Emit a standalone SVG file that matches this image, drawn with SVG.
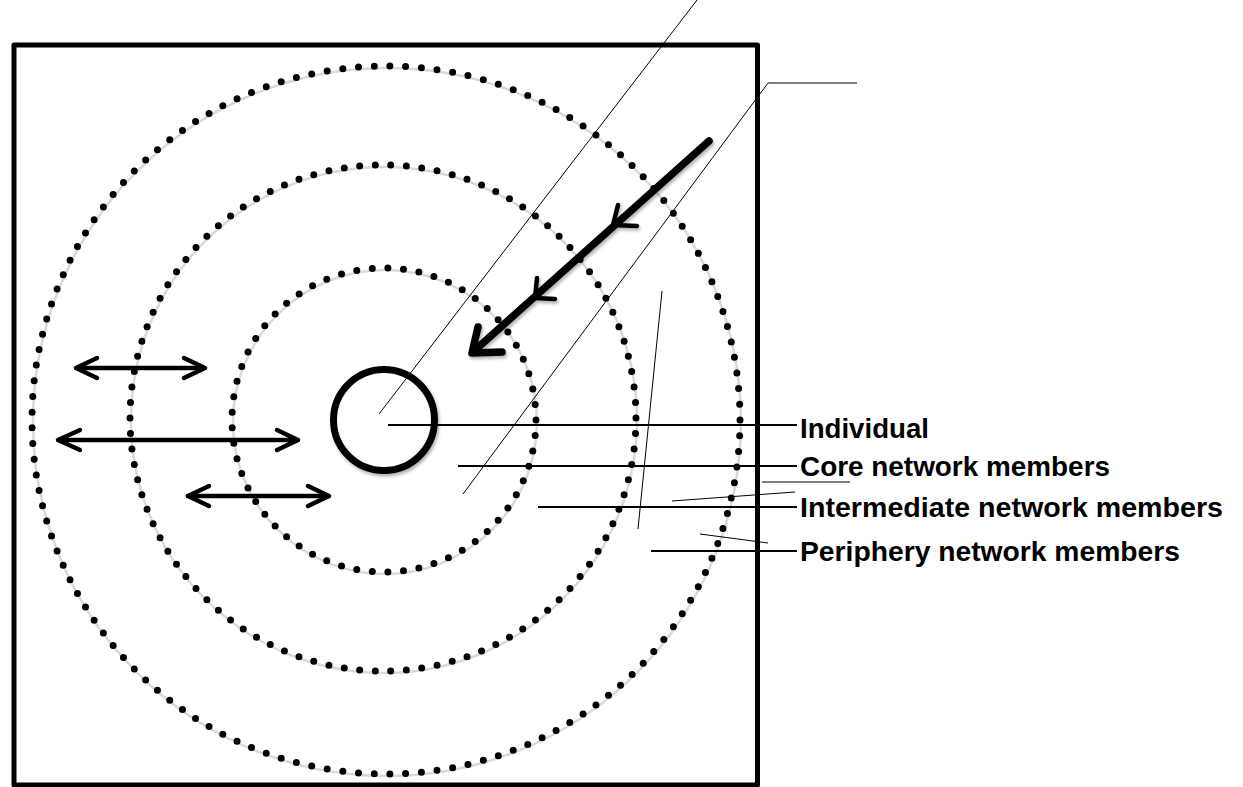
<svg xmlns="http://www.w3.org/2000/svg" width="1243" height="787" viewBox="0 0 1243 787">
  <style>
    .ring { fill: none; stroke: #000; stroke-width: 7; stroke-linecap: round; }
    .ring-shade { fill: none; stroke: #d9d9d9; stroke-width: 2.5; }
    .thin { fill: none; stroke: #000; stroke-width: 1; }
    .lead { fill: none; stroke: #000; stroke-width: 2; }
    .dbl { fill: none; stroke: #000; stroke-width: 4.5; stroke-linecap: round; stroke-linejoin: round; }
    .label { font-family: "Liberation Sans", Arial, sans-serif; font-weight: bold; font-size: 28px; fill: #000; }
  </style>
  <defs>
    <filter id="shade" x="-20%" y="-20%" width="140%" height="140%">
      <feDropShadow dx="1.5" dy="2.5" stdDeviation="1.5" flood-color="#000" flood-opacity="0.3"/>
    </filter>
  </defs>

  <rect width="1243" height="787" fill="#fff"/>

  <!-- frame -->
  <g id="frame">
    <rect x="14" y="45" width="743.5" height="740" fill="none" stroke="#000" stroke-width="5" stroke-linejoin="round"/>
  </g>

  <!-- dotted rings: periphery, intermediate, core -->
  <g id="ring-periphery">
    <circle class="ring-shade" cx="387" cy="422" r="354"/>
    <circle class="ring" cx="386" cy="420" r="354" pathLength="141" stroke-dasharray="0 1"/>
  </g>
  <g id="ring-intermediate">
    <circle class="ring-shade" cx="384" cy="420" r="253"/>
    <circle class="ring" cx="383" cy="418" r="253" pathLength="102" stroke-dasharray="0 1"/>
  </g>
  <g id="ring-core">
    <circle class="ring-shade" cx="385" cy="422" r="152"/>
    <circle class="ring" cx="384" cy="420" r="152" pathLength="61" stroke-dasharray="0 1"/>
  </g>

  <!-- individual -->
  <g id="individual">
    <circle cx="384" cy="420" r="50.5" fill="#fff" stroke="#000" stroke-width="7" filter="url(#shade)"/>
  </g>

  <!-- connectors -->
  <g id="connectors">
    <!-- inward arrow -->
    <g filter="url(#shade)" stroke="#000" fill="none" stroke-linecap="round" stroke-linejoin="round">
      <line x1="709" y1="141" x2="474" y2="351" stroke-width="7.5"/>
      <polyline points="478,327 472,353 502,352" stroke-width="7.5"/>
      <polyline points="618,205 613,225 637,226" stroke-width="4.5"/>
      <polyline points="537,278 535,298 555,299" stroke-width="4.5"/>
    </g>

    <!-- two-way arrows -->
    <g class="dbl">
      <line x1="77" y1="368" x2="204" y2="368"/>
      <polyline points="97,358 76,368 97,378"/>
      <polyline points="184,358 205,368 184,378"/>

      <line x1="59" y1="440" x2="297" y2="440"/>
      <polyline points="80,430 58,440 80,450"/>
      <polyline points="277,430 298,440 277,450"/>

      <line x1="188" y1="496" x2="328" y2="496"/>
      <polyline points="209,486 188,496 209,506"/>
      <polyline points="308,486 329,496 308,506"/>
    </g>

    <!-- thin guide lines -->
    <line class="thin" x1="697" y1="0" x2="379" y2="414"/>
    <polyline class="thin" points="463,494 768,83 857,83"/>
    <line class="thin" x1="662" y1="291" x2="638" y2="529"/>
    <line class="thin" x1="762" y1="482" x2="850" y2="482"/>
    <line class="thin" x1="672" y1="501" x2="795" y2="492"/>
    <line class="thin" x1="700" y1="534" x2="768" y2="543"/>

    <!-- label leaders -->
    <line class="lead" x1="388" y1="425" x2="797" y2="425"/>
    <line class="lead" x1="458" y1="466" x2="797" y2="466"/>
    <line class="lead" x1="538" y1="507" x2="797" y2="507"/>
    <line class="lead" x1="651" y1="551" x2="797" y2="551"/>
  </g>

  <!-- labels -->
  <g id="labels">
    <text class="label" x="800" y="438" textLength="129" lengthAdjust="spacingAndGlyphs">Individual</text>
    <text class="label" x="800" y="476" textLength="310" lengthAdjust="spacingAndGlyphs">Core network members</text>
    <text class="label" x="800" y="517" textLength="423" lengthAdjust="spacingAndGlyphs">Intermediate network members</text>
    <text class="label" x="800" y="561" textLength="380" lengthAdjust="spacingAndGlyphs">Periphery network members</text>
  </g>
</svg>
